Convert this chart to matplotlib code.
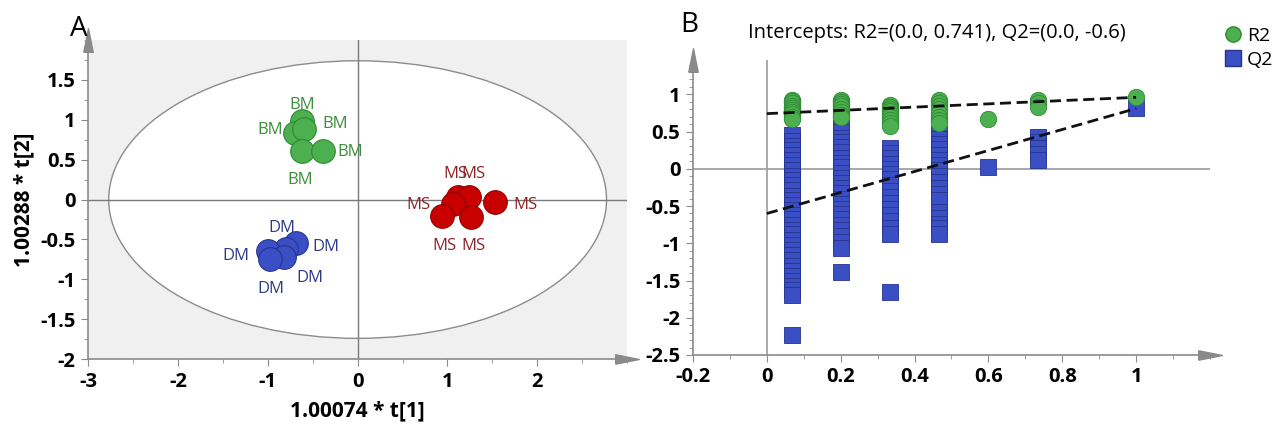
import matplotlib
matplotlib.use("Agg")
import matplotlib.pyplot as plt
from matplotlib.patches import Ellipse
from matplotlib.lines import Line2D
from matplotlib.ticker import MultipleLocator

plt.rcParams['font.family'] = ['Open Sans', 'DejaVu Sans']
plt.rcParams['axes.unicode_minus'] = False

# ---- panel A: score plot ----
bm_x = [-0.62, -0.70, -0.60, -0.62, -0.39]
bm_y = [0.98, 0.84, 0.88, 0.61, 0.61]
dm_x = [-0.69, -0.80, -1.00, -0.82, -0.97]
dm_y = [-0.54, -0.62, -0.65, -0.72, -0.75]
ms_x = [1.12, 1.24, 1.53, 1.06, 0.94, 1.26]
ms_y = [0.03, 0.03, -0.03, -0.05, -0.20, -0.22]
ellipse_a, ellipse_b = 2.77, 1.74

# ---- panel B: permutation test ----
perm_x = [0.067, 0.2, 0.333, 0.467, 0.6, 0.733]
r2_cols = [
    [0.93, 0.91, 0.88, 0.85, 0.82, 0.79, 0.76, 0.73, 0.70, 0.67],
    [0.93, 0.90, 0.87, 0.84, 0.80, 0.76, 0.72, 0.70],
    [0.86, 0.83, 0.80, 0.77, 0.73, 0.69, 0.65, 0.61, 0.58],
    [0.92, 0.88, 0.84, 0.80, 0.75, 0.70, 0.66, 0.62],
    [0.67],
    [0.92, 0.88, 0.83],
]
q2_cols = [
    [0.45, 0.38, 0.31, 0.25, 0.18, 0.12, 0.05, -0.02, -0.09, -0.15, -0.22, -0.29,
     -0.36, -0.42, -0.48, -0.55, -0.62, -0.68, -0.75, -0.82, -0.88, -0.95, -1.02,
     -1.09, -1.16, -1.22, -1.30, -1.37, -1.44, -1.50, -1.57, -1.63, -1.69, -2.23],
    [0.56, 0.49, 0.42, 0.36, 0.29, 0.22, 0.15, 0.08, 0.02, -0.05, -0.12, -0.19,
     -0.26, -0.33, -0.40, -0.47, -0.54, -0.61, -0.68, -0.75, -0.82, -0.90, -0.98,
     -1.06, -1.38],
    [0.28, 0.21, 0.14, 0.07, 0.0, -0.07, -0.14, -0.22, -0.30, -0.38, -0.46, -0.54,
     -0.62, -0.70, -0.79, -0.88, -1.66],
    [0.47, 0.40, 0.33, 0.26, 0.19, 0.12, 0.05, -0.02, -0.10, -0.18, -0.26, -0.34,
     -0.42, -0.58, -0.66, -0.74, -0.80, -0.87],
    [0.03],
    [0.43, 0.36, 0.28, 0.20, 0.12],
]
orig_x = 1.0
orig_r2 = 0.96
orig_q2 = 0.81
r2_intercept = 0.741
q2_intercept = -0.6

# label offsets (points) for the sample names
bm_off = [(0, 12), (-18, 2), (23, 4), (-1, -21), (20, -1)]
dm_off = [(22, -3), (-3, 15), (-23, -3), (19, -15), (0, -21)]
ms_off = [(-2, 17), (3, 17), (22, -2), (-25, -1), (2, -22), (2, -21)]

GREEN, GREEN_E, GREEN_T = '#4caf50', '#2f8a32', '#3c8f3c'
BLUE, BLUE_E, BLUE_T = '#3a4fc4', '#26338f', '#2d3a8c'
RED, RED_E, RED_T = '#c80000', '#8e0000', '#8b2525'
AX = '#8a8a8a'

fig = plt.figure(figsize=(12.8, 4.28), dpi=100)
axA = fig.add_axes([0.0688, 0.161, 0.4212, 0.7455])
axB = fig.add_axes([0.5414, 0.1706, 0.4039, 0.689])


def style_axis(ax):
    for s in ('top', 'right'):
        ax.spines[s].set_visible(False)
    for s in ('left', 'bottom'):
        ax.spines[s].set_color(AX)
        ax.spines[s].set_linewidth(1.2)
    ax.tick_params(which='major', direction='out', length=5, color=AX,
                   labelsize=14.5, pad=4)
    ax.tick_params(which='minor', direction='out', length=3, color=AX)
    for lab in ax.get_xticklabels() + ax.get_yticklabels():
        lab.set_fontweight('bold')
    ax.plot(1, 0, marker=[(-2, -0.8), (2, 0), (-2, 0.8), (-2, -0.8)], ms=17,
            color=AX, transform=ax.transAxes, clip_on=False)
    ax.plot(0, 1, marker=[(-0.8, -2), (0, 2), (0.8, -2), (-0.8, -2)], ms=17,
            color=AX, transform=ax.transAxes, clip_on=False)


# panel A
axA.set_facecolor('#f0f0f0')
axA.set_xlim(-3, 3)
axA.set_ylim(-2, 2)
axA.set_xticks([-3, -2, -1, 0, 1, 2])
axA.set_yticks([-2, -1.5, -1, -0.5, 0, 0.5, 1, 1.5])
axA.set_yticklabels(['-2', '-1.5', '-1', '-0.5', '0', '0.5', '1', '1.5'])
axA.xaxis.set_minor_locator(MultipleLocator(0.5))
axA.yaxis.set_minor_locator(MultipleLocator(0.25))
style_axis(axA)
axA.add_patch(Ellipse((0, 0), 2 * ellipse_a, 2 * ellipse_b, facecolor='white',
                      edgecolor='#8c8c8c', lw=1, zorder=1))
axA.axhline(0, color='#7a7a7a', lw=1, zorder=2)
axA.axvline(0, color='#7a7a7a', lw=1, zorder=2)

for xs, ys, fc, ec, tc, offs, name in [
        (bm_x, bm_y, GREEN, GREEN_E, GREEN_T, bm_off, 'BM'),
        (dm_x, dm_y, BLUE, BLUE_E, BLUE_T, dm_off, 'DM'),
        (ms_x, ms_y, RED, RED_E, RED_T, ms_off, 'MS')]:
    axA.scatter(xs, ys, s=290, color=fc, edgecolor=ec, lw=0.8, zorder=3)
    for x, y, off in zip(xs, ys, offs):
        axA.annotate(name, (x, y), xytext=off, textcoords='offset points',
                     ha='center', va='center', fontsize=12, color=tc, zorder=4)

axA.set_xlabel('1.00074 * t[1]', fontsize=15, fontweight='bold', labelpad=6)
axA.set_ylabel('1.00288 * t[2]', fontsize=15, fontweight='bold', labelpad=4)
fig.text(79 / 1280, 1 - 29 / 428, 'A', fontsize=20, ha='center', va='center')

# panel B
axB.set_xlim(-0.2, 1.2)
axB.set_ylim(-2.5, 1.46)
axB.set_xticks([-0.2, 0, 0.2, 0.4, 0.6, 0.8, 1])
axB.set_xticklabels(['-0.2', '0', '0.2', '0.4', '0.6', '0.8', '1'])
axB.set_yticks([-2.5, -2, -1.5, -1, -0.5, 0, 0.5, 1])
axB.set_yticklabels(['-2.5', '-2', '-1.5', '-1', '-0.5', '0', '0.5', '1'])
axB.xaxis.set_minor_locator(MultipleLocator(0.1))
axB.yaxis.set_minor_locator(MultipleLocator(0.1))
style_axis(axB)
axB.axhline(0, color='#9a9a9a', lw=1.2, zorder=1)
axB.axvline(0, color='#9a9a9a', lw=1.2, zorder=1)

for x, col in zip(perm_x, q2_cols):
    axB.scatter([x] * len(col), col, marker='s', s=140, color=BLUE,
                edgecolor=BLUE_E, lw=0.6, zorder=3)
for x, col in zip(perm_x, r2_cols):
    axB.scatter([x] * len(col), col, marker='o', s=140, color=GREEN,
                edgecolor=GREEN_E, lw=0.6, zorder=3)
axB.scatter([orig_x], [orig_q2], marker='s', s=140, color=BLUE,
            edgecolor=BLUE_E, lw=0.6, zorder=3)
axB.scatter([orig_x], [orig_r2], marker='o', s=140, color=GREEN,
            edgecolor=GREEN_E, lw=0.6, zorder=3)
axB.plot([0, orig_x], [r2_intercept, orig_r2], ls=(0, (4, 2)), color='#111111',
         lw=2, zorder=4)
axB.plot([0, orig_x], [q2_intercept, orig_q2], ls=(0, (4, 2)), color='#111111',
         lw=2, zorder=4)

fig.text(937 / 1280, 1 - 33 / 428, 'Intercepts: R2=(0.0, 0.741), Q2=(0.0, -0.6)',
         fontsize=14.5, ha='center', va='center')
fig.text(689 / 1280, 1 - 25 / 428, 'B', fontsize=20, ha='center', va='center')

handles = [Line2D([], [], ls='', marker='o', ms=11, color=GREEN, mec=GREEN_E),
           Line2D([], [], ls='', marker='s', ms=11, color=BLUE, mec=BLUE_E)]
fig.legend(handles, ['R2', 'Q2'], loc='upper left',
           bbox_to_anchor=(1214 / 1280, 1 - 17 / 428), frameon=False,
           fontsize=14, handletextpad=0.2, labelspacing=0.3, borderpad=0,
           handlelength=1.0)

fig.savefig('out.png', dpi=100)
